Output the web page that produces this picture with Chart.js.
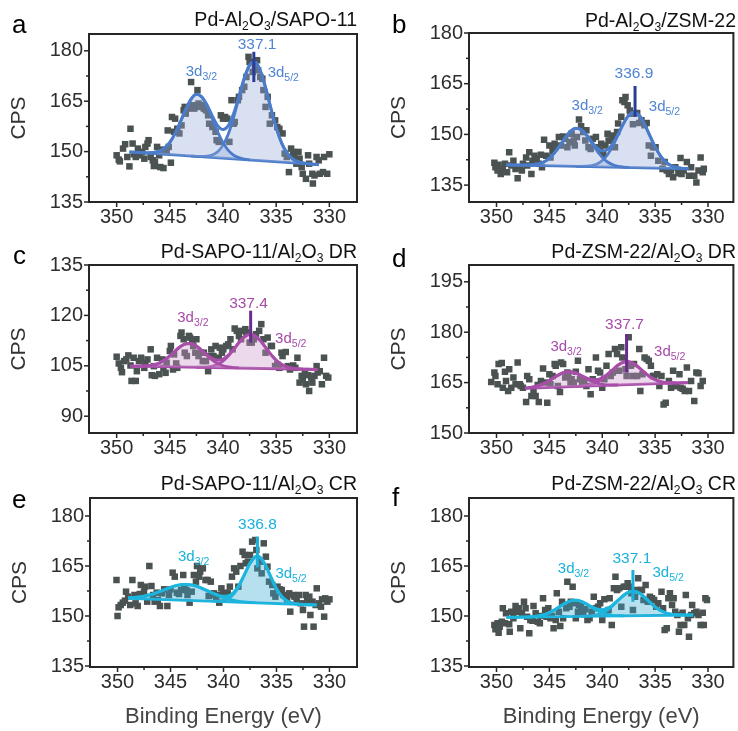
<!DOCTYPE html>
<html>
<head>
<meta charset="utf-8">
<script src="https://cdn.jsdelivr.net/npm/chart.js@4.4.1/dist/chart.umd.min.js"></script>
<style>
  html, body { margin: 0; padding: 0; background: #fff; }
  #fig { position: relative; width: 738px; height: 731px; overflow: hidden; background: #fff; }
  #fig canvas { position: absolute; }
</style>
</head>
<body>
<div id="fig"></div>
<script>
// Pd 3d XPS spectra of six catalysts: measured counts, Shirley-type background,
// the two spin-orbit components (3d3/2, 3d5/2) and their summed envelope.

const energyTicks = [350, 345, 340, 335, 330];
const energyMinorTicks = [347.5, 342.5, 337.5, 332.5];

// ---------- a: Pd-Al2O3/SAPO-11 ----------
const aCounts = [[350.0,148.9],[349.8,147.6],[349.7,147.1],[349.4,150.9],[349.2,152.2],[349.0,148.4],[348.8,145.6],[348.7,156.8],[348.5,152.4],[348.4,149.2],[348.2,148.4],[348.0,150.9],[347.8,148.9],[347.6,149.9],[347.4,147.9],[347.3,151.4],[347.1,152.4],[347.0,153.4],[346.8,148.4],[346.6,147.4],[346.5,145.7],[346.4,146.9],[346.2,151.4],[346.0,148.9],[345.9,145.4],[345.7,150.6],[345.6,145.1],[345.3,149.9],[345.2,156.3],[345.1,151.4],[344.9,146.7],[344.8,160.3],[344.6,155.9],[344.5,159.8],[344.3,156.8],[344.1,155.4],[343.9,157.8],[343.7,162.3],[343.6,163.3],[343.5,161.3],[343.3,162.8],[343.1,163.3],[343.0,170.7],[342.8,163.8],[342.7,162.8],[342.4,168.3],[342.3,164.3],[342.2,163.3],[342.0,163.8],[341.8,162.8],[341.6,162.3],[341.4,160.8],[341.3,158.3],[341.0,157.3],[340.9,157.8],[340.7,155.9],[340.6,153.4],[340.4,152.9],[340.2,160.8],[340.0,159.8],[339.8,160.3],[339.6,159.8],[339.4,152.9],[339.2,165.3],[339.0,158.3],[338.9,158.8],[338.6,165.3],[338.5,166.3],[338.2,168.3],[338.0,169.3],[337.8,172.2],[337.6,178.2],[337.5,176.7],[337.2,173.7],[337.0,175.2],[336.8,177.2],[336.7,174.2],[336.5,172.2],[336.3,171.7],[336.2,168.3],[336.0,163.3],[335.8,166.3],[335.6,158.3],[335.4,160.8],[335.1,159.3],[334.9,157.3],[334.7,156.8],[334.4,155.4],[334.2,149.4],[334.0,148.4],[333.8,143.9],[333.6,150.9],[333.4,149.9],[333.3,148.4],[333.1,146.4],[332.9,149.9],[332.8,147.9],[332.6,145.4],[332.5,143.4],[332.2,141.9],[332.0,148.9],[331.9,146.4],[331.6,143.4],[331.55,140.5],[331.4,142.9],[331.2,148.4],[331.0,147.4],[330.9,143.4],[330.6,143.9],[330.5,148.4],[330.2,143.4],[330.0,149.2]];
const aBackground = [[348.8,149.9],[331.0,146.1]];
const aFit32 = [[347.0,149.64],[346.5,149.74],[346.0,150.14],[345.5,151.05],[345.0,152.75],[344.5,155.41],[344.0,158.88],[343.5,162.61],[343.0,165.63],[342.5,167.02],[342.0,166.25],[341.5,163.58],[341.0,159.80],[340.5,155.92],[340.0,152.67],[339.5,150.38],[339.0,148.97],[338.5,148.19],[338.0,147.78],[337.5,147.55]];
const aFit52 = [[343.0,148.68],[342.5,148.59],[342.0,148.54],[341.5,148.63],[341.0,149.00],[340.5,149.96],[340.0,151.93],[339.5,155.27],[339.0,160.15],[338.5,166.02],[338.0,171.71],[337.5,175.68],[337.0,176.62],[336.5,174.15],[336.0,169.09],[335.5,162.92],[335.0,157.13],[334.5,152.65],[334.0,149.68],[333.5,147.96],[333.0,147.06],[332.5,146.61],[332.0,146.39],[331.5,146.22]];
const aEnvelope = [[348.8,149.9],[348.5,149.84],[348.0,149.74],[347.5,149.67],[347.0,149.64],[346.5,149.74],[346.0,150.14],[345.5,151.05],[345.0,152.75],[344.5,155.41],[344.0,158.88],[343.5,162.61],[343.0,165.64],[342.5,167.05],[342.0,166.34],[341.5,163.86],[341.0,160.56],[340.5,157.75],[340.0,156.57],[339.5,157.73],[339.0,161.31],[338.5,166.50],[338.0,171.89],[337.5,175.74],[337.0,176.64],[336.5,174.15],[336.0,169.09],[335.5,162.92],[335.0,157.13],[334.5,152.65],[334.0,149.68],[333.5,147.96],[333.0,147.06],[332.5,146.61],[332.0,146.39],[331.5,146.22],[331.0,146.1]];
const aPeakBE = 337.1;
const aCpsTicks = [135, 150, 165, 180];

// ---------- b: Pd-Al2O3/ZSM-22 ----------
const bCounts = [[350.2,141.6],[350.1,140.3],[349.9,139.3],[349.8,141.0],[349.6,138.3],[349.4,139.8],[349.2,141.3],[349.0,138.8],[348.8,144.7],[348.6,140.8],[348.4,142.2],[348.2,139.8],[348.0,137.0],[347.8,140.3],[347.6,139.3],[347.5,141.3],[347.2,143.2],[347.1,140.8],[346.9,144.7],[346.7,138.3],[346.6,142.2],[346.4,143.7],[346.2,142.7],[346.0,141.3],[345.8,144.0],[345.7,140.3],[345.5,148.4],[345.3,143.7],[345.0,146.7],[344.9,143.2],[344.7,145.2],[344.5,147.2],[344.4,146.2],[344.1,149.2],[343.9,146.7],[343.7,149.4],[343.5,148.7],[343.3,146.2],[343.1,147.7],[342.9,150.2],[342.7,148.2],[342.6,146.7],[342.4,149.2],[342.2,154.4],[342.0,152.4],[341.8,150.7],[341.6,148.2],[341.5,151.2],[341.3,146.2],[341.1,145.7],[340.9,148.7],[340.6,149.2],[340.4,146.2],[340.2,145.2],[340.1,147.2],[339.9,144.2],[339.7,146.7],[339.5,150.2],[339.4,148.2],[339.1,148.2],[339.0,149.7],[338.8,146.2],[338.6,150.7],[338.5,153.2],[338.2,155.2],[338.1,160.1],[337.9,159.6],[337.8,161.1],[337.6,158.6],[337.4,157.1],[337.3,156.1],[337.1,153.0],[337.0,156.1],[336.7,156.3],[336.5,153.4],[336.3,154.2],[336.0,152.7],[335.8,153.4],[335.6,146.7],[335.4,143.7],[335.2,146.2],[334.96,146.2],[334.7,142.2],[334.3,139.8],[334.1,141.8],[333.9,139.3],[333.7,138.3],[333.5,139.3],[333.3,137.3],[333.1,140.3],[332.8,138.5],[332.6,143.0],[332.5,138.3],[332.3,139.3],[332.0,141.8],[331.8,137.8],[331.6,140.3],[331.3,137.8],[331.1,135.8],[330.9,139.3],[330.7,143.2],[330.5,138.8],[330.4,139.8]];
const bBackground = [[349.1,141.0],[331.8,139.8]];
const bFit32 = [[347.0,140.92],[346.5,141.02],[346.0,141.30],[345.5,141.88],[345.0,142.96],[344.5,144.60],[344.0,146.76],[343.5,149.06],[343.0,150.94],[342.5,151.81],[342.0,151.38],[341.5,149.77],[341.0,147.50],[340.5,145.16],[340.0,143.21],[339.5,141.83],[339.0,141.01],[338.5,140.55],[338.0,140.34],[337.5,140.23]];
const bFit52 = [[342.5,140.55],[342.0,140.55],[341.5,140.60],[341.0,140.79],[340.5,141.27],[340.0,142.27],[339.5,143.99],[339.0,146.58],[338.5,149.82],[338.0,153.14],[337.5,155.64],[337.0,156.56],[336.5,155.58],[336.0,153.00],[335.5,149.62],[335.0,146.30],[334.5,143.65],[334.0,141.85],[333.5,140.79],[333.0,140.23],[332.5,139.98],[332.0,139.85]];
const bEnvelope = [[349.1,141.0],[348.5,140.96],[348.0,140.92],[347.5,140.91],[347.0,140.92],[346.5,141.02],[346.0,141.30],[345.5,141.88],[345.0,142.96],[344.5,144.60],[344.0,146.76],[343.5,149.06],[343.0,150.94],[342.5,151.82],[342.0,151.42],[341.5,149.90],[341.0,147.85],[340.5,146.03],[340.0,145.11],[339.5,145.49],[339.0,147.29],[338.5,150.11],[338.0,153.25],[337.5,155.68],[337.0,156.57],[336.5,155.58],[336.0,153.00],[335.5,149.62],[335.0,146.30],[334.5,143.65],[334.0,141.85],[333.5,140.79],[333.0,140.23],[332.5,139.98],[332.0,139.85],[331.8,139.8]];
const bPeakBE = 336.9;
const bCpsTicks = [135, 150, 165, 180];

// ---------- c: Pd-SAPO-11/Al2O3 DR ----------
const cCounts = [[350.0,107.7],[349.8,105.7],[349.6,104.4],[349.5,103.1],[349.3,106.4],[349.1,106.9],[348.9,108.1],[348.7,105.1],[348.6,100.5],[348.4,107.4],[348.2,100.5],[348.1,103.4],[347.9,106.4],[347.7,107.4],[347.4,104.4],[347.3,105.9],[347.1,106.9],[346.8,109.9],[346.7,102.2],[346.5,104.9],[346.4,102.0],[346.2,107.4],[346.0,102.5],[345.7,106.9],[345.6,104.4],[345.4,102.9],[345.3,105.9],[345.0,109.4],[344.9,110.9],[344.7,103.9],[344.6,108.4],[344.4,105.7],[344.3,104.4],[344.0,113.9],[343.9,114.9],[343.7,112.9],[343.6,108.9],[343.4,107.9],[343.2,113.9],[343.1,113.4],[342.9,112.4],[342.8,110.9],[342.6,108.9],[342.5,112.9],[342.3,107.9],[342.1,108.9],[341.9,106.4],[341.8,108.9],[341.6,106.4],[341.4,103.4],[341.2,107.9],[341.1,109.9],[340.9,107.9],[340.7,110.9],[340.4,107.4],[340.3,110.4],[340.1,108.9],[339.97,109.9],[339.7,110.9],[339.5,111.4],[339.3,112.9],[339.1,109.9],[338.9,116.1],[338.7,115.4],[338.5,113.9],[338.3,112.9],[338.1,115.4],[337.9,115.9],[337.8,114.9],[337.5,111.9],[337.3,111.9],[337.1,112.9],[336.9,114.4],[336.6,115.4],[336.4,117.4],[336.2,112.9],[336.0,108.9],[335.8,113.4],[335.5,110.9],[335.4,110.9],[335.1,104.9],[334.9,105.4],[334.7,104.4],[334.5,108.9],[334.4,107.9],[334.1,109.1],[333.9,104.9],[333.7,103.9],[333.4,105.1],[333.2,104.4],[333.0,107.4],[332.8,100.0],[332.6,102.0],[332.5,101.0],[332.3,103.0],[332.2,99.5],[332.0,102.2],[331.9,97.5],[331.7,101.5],[331.6,100.0],[331.4,102.0],[331.2,104.9],[331.1,103.0],[330.9,103.4],[330.7,99.5],[330.5,107.4],[330.3,102.0],[330.1,101.5]];
const cBackground = [[348.75,104.9],[331.1,103.9]];
const cFit32 = [[348.0,104.89],[347.5,104.91],[347.0,105.02],[346.5,105.29],[346.0,105.83],[345.5,106.72],[345.0,107.96],[344.5,109.40],[344.0,110.72],[343.5,111.55],[343.0,111.60],[342.5,110.86],[342.0,109.55],[341.5,108.04],[341.0,106.68],[340.5,105.67],[340.0,105.01],[339.5,104.65],[339.0,104.45],[338.5,104.36]];
const cFit52 = [[342.5,104.57],[342.0,104.58],[341.5,104.67],[341.0,104.91],[340.5,105.44],[340.0,106.40],[339.5,107.88],[339.0,109.81],[338.5,111.87],[338.0,113.55],[337.5,114.34],[337.0,113.95],[336.5,112.52],[336.0,110.49],[335.5,108.40],[335.0,106.66],[334.5,105.43],[334.0,104.69],[333.5,104.30],[333.0,104.11],[332.5,104.01]];
const cEnvelope = [[348.75,104.9],[348.5,104.90],[348.0,104.89],[347.5,104.91],[347.0,105.02],[346.5,105.29],[346.0,105.83],[345.5,106.72],[345.0,107.96],[344.5,109.40],[344.0,110.72],[343.5,111.55],[343.0,111.60],[342.5,110.88],[342.0,109.61],[341.5,108.22],[341.0,107.13],[340.5,106.68],[340.0,107.01],[339.5,108.15],[339.0,109.91],[338.5,111.91],[338.0,113.56],[337.5,114.34],[337.0,113.95],[336.5,112.52],[336.0,110.49],[335.5,108.40],[335.0,106.66],[334.5,105.43],[334.0,104.69],[333.5,104.30],[333.0,104.11],[332.5,104.01],[332.0,103.96],[331.5,103.92],[331.1,103.90]];
const cPeakBE = 337.4;
const cCpsTicks = [90, 105, 120, 135];

// ---------- d: Pd-ZSM-22/Al2O3 DR ----------
const dCounts = [[350.5,165.2],[350.2,168.0],[350.1,167.0],[349.9,164.5],[349.8,170.5],[349.5,170.8],[349.4,163.5],[349.2,168.2],[349.1,165.5],[348.9,162.5],[348.8,169.0],[348.6,163.5],[348.4,166.5],[348.2,164.5],[348.0,171.0],[347.8,164.5],[347.7,164.0],[347.5,163.5],[347.2,159.2],[347.1,167.0],[346.9,166.0],[346.7,161.0],[346.5,162.5],[346.3,161.0],[346.1,164.3],[346.0,159.2],[345.8,165.5],[345.6,169.2],[345.4,165.0],[345.2,159.0],[345.0,167.5],[344.9,164.5],[344.7,167.0],[344.5,170.5],[344.4,170.0],[344.2,164.0],[344.0,162.2],[343.9,171.0],[343.7,170.5],[343.5,166.5],[343.3,168.0],[343.2,167.0],[343.0,165.0],[342.9,166.0],[342.7,165.0],[342.5,168.2],[342.3,171.5],[342.1,166.0],[341.9,165.0],[341.7,165.5],[341.5,164.0],[341.3,169.0],[341.1,161.5],[340.9,166.0],[340.6,172.5],[340.4,168.5],[340.2,168.0],[340.0,163.5],[339.8,166.0],[339.6,170.0],[339.4,173.5],[339.2,167.0],[339.0,168.0],[338.8,175.0],[338.6,173.5],[338.4,168.5],[338.2,175.5],[338.1,172.5],[337.8,169.0],[337.7,167.0],[337.5,178.5],[337.3,170.0],[337.1,167.0],[337.0,170.5],[336.7,167.0],[336.5,175.0],[336.4,162.5],[336.2,167.5],[336.0,172.5],[335.8,172.0],[335.6,171.5],[335.4,170.0],[335.2,167.0],[335.1,167.0],[334.8,167.5],[334.6,164.0],[334.4,167.0],[334.2,158.5],[334.0,159.0],[333.7,165.5],[333.5,163.5],[333.3,168.5],[333.1,164.0],[333.0,164.0],[332.7,167.5],[332.6,163.5],[332.4,163.2],[332.2,162.5],[332.0,169.5],[331.8,162.5],[331.6,165.5],[331.3,159.5],[331.1,168.0],[330.9,167.8],[330.7,164.0],[330.5,165.5]];
const dBackground = [[347.3,163.3],[331.9,165.0]];
const dFit32 = [[347.0,163.47],[346.5,163.72],[346.0,164.13],[345.5,164.76],[345.0,165.62],[344.5,166.61],[344.0,167.52],[343.5,168.13],[343.0,168.23],[342.5,167.83],[342.0,167.07],[341.5,166.19],[341.0,165.40],[340.5,164.83],[340.0,164.50],[339.5,164.33],[339.0,164.29],[338.5,164.29]];
const dFit52 = [[342.5,163.86],[342.0,163.96],[341.5,164.16],[341.0,164.50],[340.5,165.11],[340.0,166.05],[339.5,167.33],[339.0,168.82],[338.5,170.19],[338.0,171.09],[337.7,171.26],[337.5,171.21],[337.0,170.57],[336.5,169.38],[336.0,168.00],[335.5,166.76],[335.0,165.86],[334.5,165.30],[334.0,165.03],[333.5,164.92],[333.0,164.91]];
const dEnvelope = [[347.3,163.38],[347.0,163.47],[346.5,163.72],[346.0,164.13],[345.5,164.76],[345.0,165.62],[344.5,166.61],[344.0,167.52],[343.5,168.13],[343.0,168.23],[342.5,167.86],[342.0,167.15],[341.5,166.41],[341.0,165.91],[340.5,165.89],[340.0,166.44],[339.5,167.50],[339.0,168.89],[338.5,170.21],[338.0,171.09],[337.7,171.26],[337.5,171.21],[337.0,170.57],[336.5,169.38],[336.0,168.00],[335.5,166.76],[335.0,165.86],[334.5,165.30],[334.0,165.03],[333.5,164.92],[333.0,164.91],[332.5,164.93],[332.0,164.99],[331.9,165.0]];
const dPeakBE = 337.7;
const dCpsTicks = [150, 165, 180, 195];

// ---------- e: Pd-SAPO-11/Al2O3 CR ----------
const eCounts = [[350.1,160.8],[350.0,150.0],[349.9,152.6],[349.7,153.3],[349.5,154.0],[349.3,154.6],[349.2,157.3],[349.0,155.8],[348.8,153.3],[348.6,160.8],[348.4,156.3],[348.3,153.8],[348.1,153.0],[347.9,156.6],[347.8,159.3],[347.65,156.0],[347.5,157.3],[347.4,158.8],[347.2,154.3],[347.0,165.0],[346.8,159.0],[346.65,156.3],[346.5,154.3],[346.3,157.0],[346.2,154.8],[346.0,153.0],[345.8,156.8],[345.6,158.0],[345.3,153.0],[345.15,156.3],[345.0,158.0],[344.8,163.0],[344.6,161.8],[344.4,157.0],[344.2,156.6],[344.0,157.8],[343.8,162.3],[343.7,158.8],[343.5,157.8],[343.4,156.3],[343.2,154.0],[343.0,157.3],[342.8,162.3],[342.6,160.3],[342.5,165.0],[342.3,161.8],[342.2,163.3],[341.95,164.3],[341.7,160.8],[341.5,160.8],[341.4,156.0],[341.2,160.3],[341.1,156.3],[340.9,156.8],[340.7,155.3],[340.5,156.3],[340.4,154.0],[340.2,158.3],[340.0,156.8],[339.8,157.0],[339.6,156.8],[339.4,158.8],[339.2,161.8],[339.0,164.3],[338.8,163.3],[338.6,158.8],[338.4,165.0],[338.2,169.3],[338.0,168.3],[337.9,165.8],[337.7,166.3],[337.5,168.3],[337.3,172.3],[337.0,172.8],[336.9,169.8],[336.8,164.3],[336.5,166.3],[336.4,162.8],[336.2,171.8],[336.0,167.8],[335.85,164.8],[335.7,160.3],[335.4,159.3],[335.3,156.8],[335.1,155.8],[334.9,158.8],[334.7,158.0],[334.5,157.8],[334.35,156.3],[334.1,155.8],[334.0,155.0],[333.8,156.8],[333.7,151.3],[333.4,156.3],[333.3,155.8],[333.1,154.8],[332.9,156.3],[332.7,153.8],[332.5,151.8],[332.4,146.8],[332.25,156.3],[332.1,154.8],[331.9,155.8],[331.8,150.3],[331.6,154.3],[331.5,146.8],[331.3,153.3],[331.2,158.3],[331.0,153.8],[330.8,152.8],[330.7,155.0],[330.5,149.8],[330.4,155.3],[330.2,154.3],[330.0,155.0]];
const eBackground = [[349.0,155.3],[331.2,153.3]];
const eFit32 = [[349.0,155.47],[348.5,155.54],[348.0,155.69],[347.5,155.95],[347.0,156.31],[346.5,156.79],[346.0,157.36],[345.5,157.99],[345.0,158.59],[344.5,159.10],[344.0,159.41],[343.5,159.48],[343.0,159.30],[342.5,158.87],[342.0,158.25],[341.5,157.54],[341.0,156.80],[340.5,156.12],[340.0,155.52],[339.5,155.05],[339.0,154.69],[338.5,154.42],[338.0,154.24],[337.5,154.10],[337.0,153.99]];
const eFit52 = [[341.0,154.43],[340.5,154.46],[340.0,154.66],[339.5,155.29],[339.0,156.71],[338.5,159.16],[338.0,162.48],[337.5,165.78],[337.0,167.75],[336.8,167.93],[336.5,167.47],[336.0,165.00],[335.5,161.48],[335.0,158.18],[334.5,155.83],[334.0,154.49],[333.5,153.86],[333.0,153.59],[332.5,153.47]];
const eEnvelope = [[349.0,155.47],[348.5,155.54],[348.0,155.69],[347.5,155.95],[347.0,156.31],[346.5,156.79],[346.0,157.36],[345.5,157.99],[345.0,158.59],[344.5,159.10],[344.0,159.41],[343.5,159.48],[343.0,159.30],[342.5,158.87],[342.0,158.25],[341.5,157.54],[341.0,156.83],[340.5,156.23],[340.0,155.89],[339.5,156.11],[339.0,157.22],[338.5,159.46],[338.0,162.65],[337.5,165.87],[337.0,167.79],[336.8,167.96],[336.5,167.49],[336.0,165.00],[335.5,161.48],[335.0,158.18],[334.5,155.83],[334.0,154.49],[333.5,153.86],[333.0,153.59],[332.5,153.47],[332.0,153.39],[331.5,153.34],[331.2,153.30]];
const ePeakBE = 336.8;
const eCpsTicks = [135, 150, 165, 180];

// ---------- f: Pd-ZSM-22/Al2O3 CR ----------
const fCounts = [[350.2,147.3],[350.1,146.0],[349.9,147.8],[349.8,145.0],[349.7,146.8],[349.5,148.3],[349.4,152.3],[349.2,147.8],[349.1,150.8],[348.8,147.5],[348.75,145.3],[348.6,151.3],[348.4,149.3],[348.2,153.0],[348.1,151.3],[347.9,152.3],[347.75,146.3],[347.6,150.8],[347.4,154.3],[347.25,152.3],[347.1,149.8],[346.9,144.8],[346.8,148.8],[346.6,148.6],[346.5,153.0],[346.3,150.8],[346.1,148.3],[345.9,147.8],[345.8,150.0],[345.6,155.3],[345.4,151.8],[345.25,149.8],[345.1,152.3],[344.9,149.3],[344.75,150.0],[344.6,146.3],[344.4,148.8],[344.3,156.8],[344.1,151.3],[343.97,147.0],[343.8,154.3],[343.7,149.3],[343.4,152.3],[343.3,160.3],[343.1,152.8],[342.97,154.3],[342.8,158.8],[342.7,153.8],[342.5,149.3],[342.3,151.3],[342.2,153.3],[342.0,152.8],[341.8,151.3],[341.6,152.0],[341.4,148.8],[341.2,149.3],[341.0,151.3],[340.8,155.8],[340.6,152.3],[340.4,152.8],[340.2,153.8],[340.0,148.8],[339.8,155.0],[339.6,151.3],[339.4,151.8],[339.3,155.3],[339.1,147.3],[338.9,158.3],[338.75,161.8],[338.6,157.8],[338.4,158.3],[338.2,152.8],[337.97,158.8],[337.8,158.8],[337.6,159.8],[337.4,158.8],[337.25,156.8],[337.1,151.8],[336.9,155.8],[336.8,157.8],[336.6,161.3],[336.4,157.8],[336.25,157.8],[336.1,154.8],[335.9,159.3],[335.7,154.3],[335.5,155.8],[335.3,155.3],[335.1,154.8],[334.9,152.8],[334.7,153.8],[334.4,157.3],[334.25,152.3],[334.1,145.8],[333.9,146.3],[333.75,155.3],[333.6,156.8],[333.4,153.3],[333.25,155.3],[333.1,151.3],[332.9,150.3],[332.75,145.3],[332.6,147.3],[332.4,151.0],[332.25,147.3],[332.1,156.3],[331.9,149.3],[331.8,143.8],[331.6,150.3],[331.5,153.3],[331.3,150.8],[331.1,151.3],[330.9,150.3],[330.7,147.3],[330.5,151.0],[330.4,147.3],[330.25,155.3],[330.1,154.8]];
const fBackground = [[349.06,149.6],[331.4,150.3]];
const fFit32 = [[347.0,149.73],[346.5,149.83],[346.0,150.03],[345.5,150.39],[345.0,150.99],[344.5,151.84],[344.0,152.86],[343.5,153.85],[343.0,154.55],[342.5,154.75],[342.0,154.37],[341.5,153.57],[341.0,152.57],[340.5,151.64],[340.0,150.93],[339.5,150.47],[339.0,150.22],[338.5,150.11],[338.0,150.07]];
const fFit52 = [[342.0,149.90],[341.5,149.97],[341.0,150.11],[340.5,150.40],[340.0,150.94],[339.5,151.84],[339.0,153.12],[338.5,154.65],[338.0,156.13],[337.5,157.18],[337.0,157.46],[336.5,156.89],[336.0,155.66],[335.5,154.14],[335.0,152.73],[334.5,151.65],[334.0,150.94],[333.5,150.55],[333.0,150.37],[332.5,150.31]];
const fEnvelope = [[349.06,149.6],[348.5,149.62],[348.0,149.64],[347.5,149.68],[347.0,149.73],[346.5,149.83],[346.0,150.03],[345.5,150.39],[345.0,150.99],[344.5,151.84],[344.0,152.86],[343.5,153.85],[343.0,154.55],[342.5,154.76],[342.0,154.39],[341.5,153.64],[341.0,152.76],[340.5,152.10],[340.0,151.91],[339.5,152.33],[339.0,153.34],[338.5,154.74],[338.0,156.16],[337.5,157.18],[337.0,157.46],[336.5,156.89],[336.0,155.66],[335.5,154.14],[335.0,152.73],[334.5,151.65],[334.0,150.94],[333.5,150.55],[333.0,150.37],[332.5,150.31],[332.0,150.30],[331.4,150.30]];
const fPeakBE = 337.1;
const fCpsTicks = [135, 150, 165, 180];

// ---------- styling and layout ----------
const FONT = '"Liberation Sans", Arial, Helvetica, sans-serif';
Chart.defaults.font.family = FONT;

const BLUE   = { line: '#4a7cc9', fill: 'rgba(146,169,218,0.36)', text: '#4f84d2', mark: '#283c98' };
const PURPLE = { line: '#a84ea9', fill: 'rgba(201,149,201,0.36)', text: '#a64ba8', mark: '#6a2c8e' };
const CYAN   = { line: '#1cb5de', fill: 'rgba(55,169,212,0.36)',  text: '#18b2dc', mark: '#16b0da' };

const panels = [
  { letter: 'a', title: 'Pd-Al₂O₃/SAPO-11', theme: BLUE,
    counts: aCounts, bg: aBackground, fit32: aFit32, fit52: aFit52, env: aEnvelope, peak: aPeakBE, yTicks: aCpsTicks,
    yRange: [135, 185], xRange: [327.4, 352.6], canvas: [0, 0, 369, 240], area: [89, 34, 357, 202],
    markY: [170.7, 179.7], valAt: [336.8, 180.5], l32At: [343.5, 172.4], l52At: [335.8, 172.2],
    letterAt: [12, 33], titleBase: 26, xTitle: false },
  { letter: 'b', title: 'Pd-Al₂O₃/ZSM-22', theme: BLUE,
    counts: bCounts, bg: bBackground, fit32: bFit32, fit52: bFit52, env: bEnvelope, peak: bPeakBE, yTicks: bCpsTicks,
    yRange: [130, 180], xRange: [327.6, 352.6], canvas: [369, 0, 369, 240], area: [469, 33, 736, 202],
    markY: [155.2, 164.3], valAt: [337.0, 166.8], l32At: [342.9, 157.3], l52At: [335.6, 157.0],
    letterAt: [392, 33], titleBase: 27, xTitle: false },
  { letter: 'c', title: 'Pd-SAPO-11/Al₂O₃ DR', theme: PURPLE,
    counts: cCounts, bg: cBackground, fit32: cFit32, fit52: cFit52, env: cEnvelope, peak: cPeakBE, yTicks: cCpsTicks,
    yRange: [85, 135], xRange: [327.4, 352.6], canvas: [0, 236, 369, 236], area: [89, 265, 357, 433],
    markY: [111.9, 121.4], valAt: [337.6, 122.2], l32At: [344.3, 117.9], l52At: [335.1, 111.9],
    letterAt: [13, 264], titleBase: 258, xTitle: false },
  { letter: 'd', title: 'Pd-ZSM-22/Al₂O₃ DR', theme: PURPLE,
    counts: dCounts, bg: dBackground, fit32: dFit32, fit52: dFit52, env: dEnvelope, peak: dPeakBE, yTicks: dCpsTicks,
    yRange: [150, 200], xRange: [327.6, 352.6], canvas: [369, 236, 369, 236], area: [469, 265, 736, 433],
    markY: [168.0, 179.5], valAt: [337.9, 181.0], l32At: [344.9, 174.5], l52At: [335.1, 173.0],
    letterAt: [392, 267], titleBase: 258, xTitle: false },
  { letter: 'e', title: 'Pd-SAPO-11/Al₂O₃ CR', theme: CYAN,
    counts: eCounts, bg: eBackground, fit32: eFit32, fit52: eFit52, env: eEnvelope, peak: ePeakBE, yTicks: eCpsTicks,
    yRange: [134.7, 185.4], xRange: [327.4, 352.6], canvas: [0, 462, 369, 269], area: [90, 498, 357, 667],
    markY: [164.6, 173.8], valAt: [336.8, 176.0], l32At: [344.3, 166.5], l52At: [335.1, 161.5],
    letterAt: [12, 508], titleBase: 490, xTitle: true },
  { letter: 'f', title: 'Pd-ZSM-22/Al₂O₃ CR', theme: CYAN,
    counts: fCounts, bg: fBackground, fit32: fFit32, fit52: fFit52, env: fEnvelope, peak: fPeakBE, yTicks: fCpsTicks,
    yRange: [134.7, 185.4], xRange: [327.6, 352.6], canvas: [369, 462, 369, 269], area: [469, 498, 736, 667],
    markY: [154.3, 163.8], valAt: [337.2, 165.9], l32At: [344.2, 163.0], l52At: [335.25, 161.8],
    letterAt: [392, 506], titleBase: 490, xTitle: true }
];

// Text with chemical subscripts (₀-₉ are drawn as lowered small digits)
const SUBS = '₀₁₂₃₄₅₆₇₈₉';
function richRuns(str, size) {
  const runs = [];
  for (const ch of str) {
    const k = SUBS.indexOf(ch);
    const sub = k >= 0;
    const t = sub ? String(k) : ch;
    const last = runs[runs.length - 1];
    if (last && last.sub === sub) last.text += t;
    else runs.push({ text: t, sub, size: sub ? size * 0.62 : size, dy: sub ? size * 0.2 : 0 });
  }
  return runs;
}
function drawRuns(ctx, runs, x, y, align, color) {
  let total = 0;
  runs.forEach(r => { ctx.font = r.size + 'px ' + FONT; r.w = ctx.measureText(r.text).width; total += r.w; });
  let px = align === 'right' ? x - total : align === 'center' ? x - total / 2 : x;
  ctx.fillStyle = color;
  ctx.textAlign = 'left';
  ctx.textBaseline = 'alphabetic';
  runs.forEach(r => { ctx.font = r.size + 'px ' + FONT; ctx.fillText(r.text, px, y + (r.dy || 0)); px += r.w; });
}
const toXY = pts => pts.map(([x, y]) => ({ x, y }));

const fig = document.getElementById('fig');
const Y_AXIS_W = 60, X_AXIS_H = 34;

panels.forEach(p => {
  const [cx, cy, cw, ch] = p.canvas;
  const [L, T, R, B] = p.area;
  const cv = document.createElement('canvas');
  cv.width = cw; cv.height = ch;
  cv.style.left = cx + 'px'; cv.style.top = cy + 'px';
  cv.style.width = cw + 'px'; cv.style.height = ch + 'px';
  fig.appendChild(cv);

  const th = p.theme;
  const fitLine = (pts, width, order, fill) => ({
    data: toXY(pts), borderColor: th.line, borderWidth: width, backgroundColor: th.fill,
    pointRadius: 0, cubicInterpolationMode: 'monotone', fill: fill, order
  });

  const datasets = [
    { data: toXY(p.counts), showLine: false, pointStyle: 'rect', pointRadius: 4.6,
      pointBackgroundColor: '#4b5252', pointBorderWidth: 0, order: 9 },            // 0 measured counts
    fitLine(p.bg, 2.8, 4, false),                                                   // 1 background
    fitLine(p.fit32, 2.8, 3, 1),                                                    // 2 3d3/2 component
    fitLine(p.fit52, 2.8, 3, 1),                                                    // 3 3d5/2 component
    fitLine(p.env, 3, 2, false),                                                    // 4 envelope
    { data: [{ x: p.peak, y: p.markY[0] }, { x: p.peak, y: p.markY[1] }],
      borderColor: th.mark, borderWidth: 3, pointRadius: 0, fill: false, order: 1 } // 5 peak position marker
  ];

  const yMinor = p.yTicks.slice(0, -1).map((v, i) => (v + p.yTicks[i + 1]) / 2);

  const decor = {
    id: 'decor' + p.letter,
    afterDraw(chart) {
      const ctx = chart.ctx;
      const ca = chart.chartArea;
      const xs = chart.scales.x, ys = chart.scales.y;
      ctx.save();
      // frame
      ctx.strokeStyle = '#262626';
      ctx.lineWidth = 2;
      ctx.strokeRect(ca.left, ca.top, ca.right - ca.left, ca.bottom - ca.top);
      // tick marks (major / minor)
      ctx.lineWidth = 1.5;
      const xt = (v, len) => { const px = xs.getPixelForValue(v); ctx.beginPath(); ctx.moveTo(px, ca.bottom); ctx.lineTo(px, ca.bottom + len); ctx.stroke(); };
      const yt = (v, len) => { const py = ys.getPixelForValue(v); ctx.beginPath(); ctx.moveTo(ca.left, py); ctx.lineTo(ca.left - len, py); ctx.stroke(); };
      energyTicks.forEach(v => xt(v, 5));
      energyMinorTicks.forEach(v => xt(v, 3));
      p.yTicks.forEach(v => yt(v, 5));
      yMinor.forEach(v => yt(v, 3));

      // peak annotations
      const px = v => xs.getPixelForValue(v), py = v => ys.getPixelForValue(v);
      drawRuns(ctx, [{ text: p.peak.toFixed(1), size: 15.5 }], px(p.valAt[0]), py(p.valAt[1]), 'center', th.text);
      const spin = (at, sub) => drawRuns(ctx, [{ text: '3d', size: 15 }, { text: sub, size: 10.5, dy: 4 }], px(at[0]), py(at[1]), 'left', th.text);
      spin(p.l32At, '3/2');
      spin(p.l52At, '5/2');

      // panel letter and sample title
      ctx.fillStyle = '#000';
      ctx.font = '26px ' + FONT;
      ctx.textAlign = 'left';
      ctx.textBaseline = 'alphabetic';
      ctx.fillText(p.letter, p.letterAt[0] - cx, p.letterAt[1] - cy);
      drawRuns(ctx, richRuns(p.title, 19.5), R - cx, p.titleBase - cy, 'right', '#111');

      // axis titles
      ctx.fillStyle = '#333';
      ctx.font = '21px ' + FONT;
      ctx.textAlign = 'center';
      ctx.textBaseline = 'middle';
      ctx.save();
      ctx.translate(L - cx - 70, (ca.top + ca.bottom) / 2);
      ctx.rotate(-Math.PI / 2);
      ctx.fillText('CPS', 0, 0);
      ctx.restore();
      if (p.xTitle) {
        ctx.fillStyle = '#444';
        ctx.font = '22px ' + FONT;
        ctx.textBaseline = 'alphabetic';
        ctx.fillText('Binding Energy (eV)', (ca.left + ca.right) / 2, 723 - cy);
      }
      ctx.restore();
    }
  };

  new Chart(cv, {
    type: 'line',
    data: { datasets },
    options: {
      responsive: false,
      animation: false,
      devicePixelRatio: 1,
      events: [],
      layout: { padding: { left: L - cx - Y_AXIS_W, top: T - cy, right: cx + cw - R, bottom: cy + ch - B - X_AXIS_H } },
      plugins: { legend: { display: false }, tooltip: { enabled: false }, filler: { propagate: false } },
      scales: {
        x: {
          type: 'linear', reverse: true, min: p.xRange[0], max: p.xRange[1],
          grid: { display: false, drawTicks: false, tickLength: 0 }, border: { display: false },
          afterBuildTicks: s => { s.ticks = energyTicks.map(v => ({ value: v })); },
          afterFit: s => { s.height = X_AXIS_H; },
          ticks: { autoSkip: false, maxRotation: 0, padding: 5, color: '#2e2e2e',
                   font: { family: FONT, size: 20, lineHeight: 1 }, callback: v => String(v) }
        },
        y: {
          type: 'linear', min: p.yRange[0], max: p.yRange[1],
          grid: { display: false, drawTicks: false, tickLength: 0 }, border: { display: false },
          afterBuildTicks: s => { s.ticks = p.yTicks.map(v => ({ value: v })); },
          afterFit: s => { s.width = Y_AXIS_W; },
          ticks: { autoSkip: false, padding: 6, color: '#2e2e2e',
                   font: { family: FONT, size: 20, lineHeight: 1 }, callback: v => String(v) }
        }
      }
    },
    plugins: [decor]
  });
});
</script>
</body>
</html>
